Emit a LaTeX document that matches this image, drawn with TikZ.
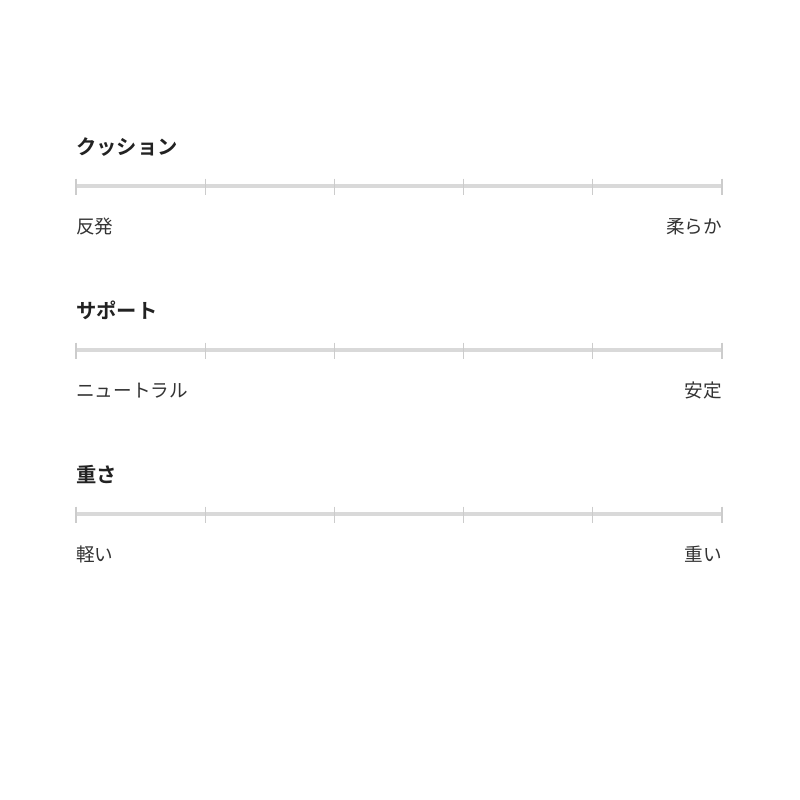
\documentclass[tikz,border=0pt]{standalone}
\usepackage{fontspec}
\newfontfamily\jp{Noto Sans CJK JP}
\newfontfamily\jpb{Noto Sans CJK JP Bold}
\definecolor{txt}{HTML}{333333}
\definecolor{ttl}{HTML}{222222}
\definecolor{bar}{HTML}{D9D9D9}
\definecolor{tickc}{HTML}{CCCCCC}
\tikzset{
  ttlnode/.style={inner sep=0pt, anchor=base west, text=ttl, font=\jpb\fontsize{20.3}{22}\selectfont},
  lblL/.style={inner sep=0pt, anchor=base west, text=txt, font=\jp\fontsize{18.6}{20}\selectfont},
  lblR/.style={inner sep=0pt, anchor=base east, text=txt, font=\jp\fontsize{18.6}{20}\selectfont},
  barline/.style={draw=bar, line width=3.2pt},
  tickline/.style={draw=tickc, line width=1.1pt}
}
\begin{document}
\begin{tikzpicture}[x=1pt,y=-1pt]
\useasboundingbox[fill=white] (0,0) rectangle (800,800);
\foreach \yy/\tt/\la/\lb/\nm in {186/クッション/反発/柔らか/a, 350/サポート/ニュートラル/安定/b, 514/重さ/軽い/重い/c}{
  \node[ttlnode] (t\nm) at (76,\yy-32) {\tt};
  \node[lblL] (l\nm) at (76,\yy+47) {\la};
  \node[lblR] (r\nm) at (722,\yy+47) {\lb};
  \coordinate (s\nm) at (76,\yy);
  \coordinate (e\nm) at (722,\yy);
  \path[barline] (s\nm) -- (e\nm);
  \foreach \xx in {76,205.2,334.4,463.6,592.8,722}{
    \coordinate (k1) at (\xx,\yy-7.5);
    \coordinate (k2) at (\xx,\yy+8.5);
    \path[tickline] (k1) -- (k2);
  }
}
\end{tikzpicture}
\end{document}
